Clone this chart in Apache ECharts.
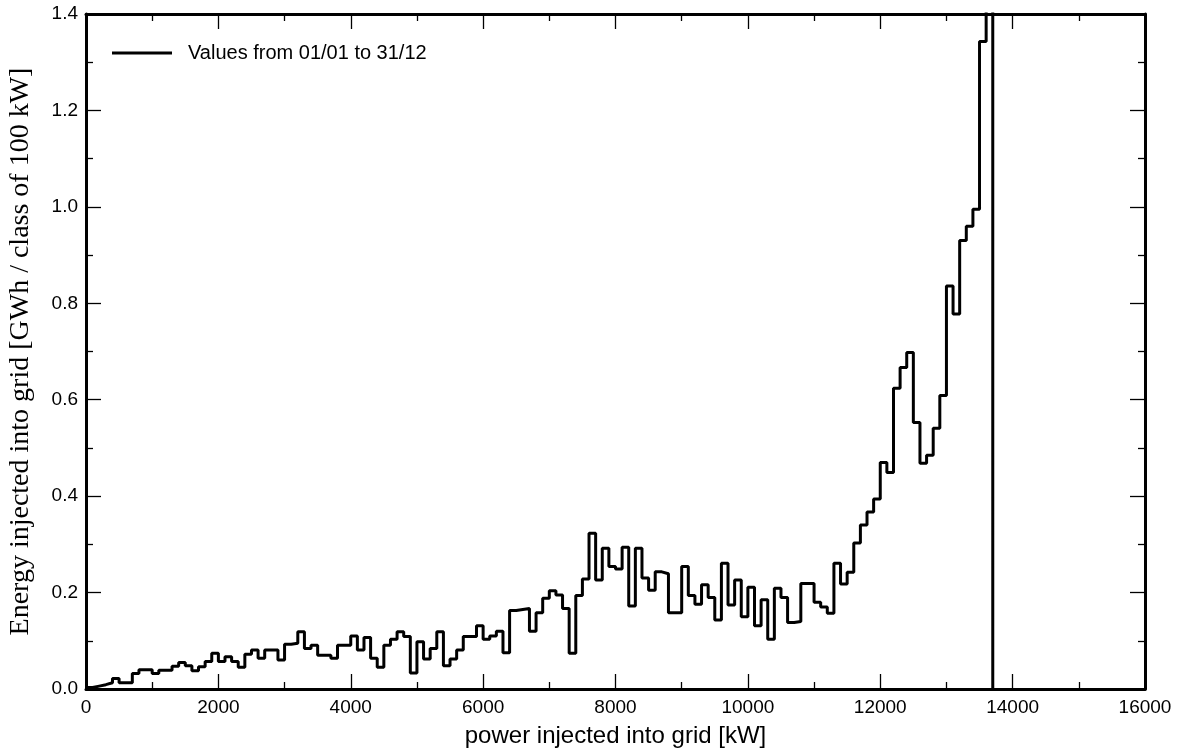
<!DOCTYPE html>
<html>
<head>
<meta charset="utf-8">
<script src="https://cdn.jsdelivr.net/npm/echarts@6/dist/echarts.min.js"></script>
<style>
  html, body { margin: 0; padding: 0; background: #fff; }
  #main { width: 1183px; height: 751px; }
</style>
</head>
<body>
<div id="main"></div>
<script>
// classes of 100 kW, energy per class in GWh
const binWidth = 100
const lastEdge = 13700
const energy = [
  0.003, 0.006, 0.009, 0.013, 0.022, 0.013, 0.013, 0.032, 0.040, 0.040,
  0.032, 0.039, 0.039, 0.047, 0.055, 0.048, 0.038, 0.046, 0.057, 0.074,
  0.057, 0.067, 0.057, 0.045, 0.072, 0.081, 0.064, 0.081, 0.081, 0.060,
  0.093, 0.095, 0.119, 0.084, 0.091, 0.070, 0.070, 0.064, 0.091, 0.091,
  0.110, 0.081, 0.107, 0.064, 0.045, 0.091, 0.103, 0.119, 0.109, 0.033,
  0.098, 0.062, 0.084, 0.119, 0.048, 0.062, 0.081, 0.109, 0.109, 0.131,
  0.103, 0.110, 0.120, 0.075, 0.163, 0.165, 0.167, 0.120, 0.158, 0.188,
  0.204, 0.195, 0.167, 0.074, 0.194, 0.228, 0.323, 0.226, 0.292, 0.254,
  0.249, 0.294, 0.172, 0.292, 0.230, 0.205, 0.243, 0.239, 0.158, 0.158,
  0.254, 0.194, 0.176, 0.216, 0.190, 0.143, 0.261, 0.174, 0.226, 0.150,
  0.211, 0.131, 0.185, 0.103, 0.209, 0.190, 0.138, 0.140, 0.219, 0.219,
  0.180, 0.170, 0.157, 0.261, 0.218, 0.242, 0.303, 0.340, 0.367, 0.394,
  0.470, 0.449, 0.624, 0.667, 0.698, 0.553, 0.468, 0.485, 0.541, 0.609,
  0.836, 0.778, 0.930, 0.960, 0.995, 1.343, 3.000
]
const xTicks = [0, 2000, 4000, 6000, 8000, 10000, 12000, 14000, 16000]
const yTicks = [0.0, 0.2, 0.4, 0.6, 0.8, 1.0, 1.2, 1.4]

let points = energy.map((v, i) => [i * binWidth, v])
points.push([lastEdge, 0])

let myChart = echarts.init(document.getElementById('main'))

const sans = 'Liberation Sans'
const tickStyle = { show: true, inside: true, length: 15, lineStyle: { color: '#000', width: 1.3 } }
const minorStyle = { show: true, splitNumber: 2, length: 7, lineStyle: { color: '#000', width: 1.3 } }

let option = {
  animation: false,
  backgroundColor: '#fff',
  grid: { left: 86, right: 38, top: 14, bottom: 62, show: false, outerBoundsMode: 'none', containLabel: false },
  legend: {
    left: 107, top: 38,
    icon: 'rect',
    itemWidth: 60, itemHeight: 3,
    textStyle: { fontFamily: sans, fontSize: 20, color: '#000', padding: [0, 0, 0, 11] },
    data: ['Values from 01/01 to 31/12']
  },
  xAxis: [
    {
      type: 'value', min: xTicks[0], max: xTicks[xTicks.length - 1], interval: 2000,
      name: 'power injected into grid [kW]', nameLocation: 'middle', nameGap: 35,
      nameTextStyle: { fontFamily: sans, fontSize: 24, color: '#000' },
      axisLine: { show: true, onZero: false, lineStyle: { color: '#000', width: 3 } },
      axisTick: tickStyle, minorTick: minorStyle,
      axisLabel: { fontFamily: sans, fontSize: 19, color: '#000', margin: 9, formatter: v => String(v) },
      splitLine: { show: false }
    },
    {
      type: 'value', position: 'top', min: 0, max: 16000, interval: 2000,
      axisLine: { show: true, onZero: false, lineStyle: { color: '#000', width: 3 } },
      axisTick: tickStyle, minorTick: minorStyle,
      axisLabel: { show: false }, splitLine: { show: false }
    }
  ],
  yAxis: [
    {
      type: 'value', min: yTicks[0], max: yTicks[yTicks.length - 1], interval: 0.2,
      name: 'Energy injected into grid [GWh / class of 100 kW]', nameLocation: 'middle', nameGap: 51,
      nameTextStyle: { fontFamily: 'Liberation Serif', fontSize: 28, color: '#000' },
      axisLine: { show: true, onZero: false, lineStyle: { color: '#000', width: 3 } },
      axisTick: tickStyle, minorTick: minorStyle,
      axisLabel: { fontFamily: sans, fontSize: 19, color: '#000', margin: 8, formatter: v => v.toFixed(1) },
      splitLine: { show: false }
    },
    {
      type: 'value', position: 'right', min: 0, max: 1.4, interval: 0.2,
      axisLine: { show: true, onZero: false, lineStyle: { color: '#000', width: 3 } },
      axisTick: tickStyle, minorTick: minorStyle,
      axisLabel: { show: false }, splitLine: { show: false }
    }
  ],
  series: [
    {
      name: 'Values from 01/01 to 31/12',
      type: 'line',
      step: 'end',
      showSymbol: false,
      symbol: 'none',
      clip: true,
      lineStyle: { color: '#000', width: 3 },
      itemStyle: { color: '#000' },
      data: points
    }
  ]
}

myChart.setOption(option)
</script>
</body>
</html>
